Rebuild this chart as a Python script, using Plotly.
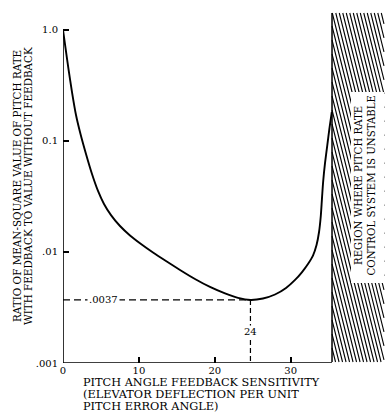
import math
import plotly.graph_objects as go

# ---- data ----
gain = [0, 0.329, 0.725, 1.186, 1.713, 2.306, 3.031, 3.821, 4.612, 5.403, 6.325, 7.511,
        8.829, 10.278, 11.86, 13.57, 15.42, 17.39, 19.37, 21.35, 23.06, 24.7, 26.35,
        27.94, 29.39, 30.58, 31.50, 32.28, 32.94, 33.41, 33.74, 33.97, 34.13, 34.29,
        34.53, 34.83, 35.12, 35.42]
ratio = [1.0, 0.689, 0.445, 0.276, 0.1714, 0.1156, 0.0764, 0.0504, 0.0355, 0.0271,
         0.0215, 0.01714, 0.01409, 0.0118, 0.00989, 0.00829, 0.00689, 0.00571, 0.00484,
         0.00423, 0.00386, 0.0037, 0.00381, 0.00414, 0.00474, 0.0056, 0.0066, 0.0078,
         0.00929, 0.01156, 0.01514, 0.0211, 0.0306, 0.0436, 0.0634, 0.092, 0.131, 0.1824]
min_gain = 24.7
min_ratio = 0.0037
min_gain_label = "24"
min_ratio_label = ".0037"
unstable_from = 35.45
x_tick_vals = [0, 10, 20, 30]
x_tick_text = ["0", "10", "20", "30"]
y_tick_vals = [0.001, 0.01, 0.1, 1.0]
y_tick_text = [".001", ".01", "0.1", "1.0"]
x_axis_end = 35.45
x_max = 42.3
y_log_range = [-3, 0.153]

FONT = "DejaVu Serif"
W, H = 386, 415
L, R, T, B = 63, 2, 13, 52
PW, PH = W - L - R, H - T - B

def px_to_paper_x(px):
    return (px - L) / PW

def px_to_paper_y(py):
    return (H - B - py) / PH

fig = go.Figure()

# axes lines
fig.add_trace(go.Scatter(x=[0, 0], y=[0.001, 1.0], mode="lines",
                         line=dict(color="black", width=1.6), hoverinfo="skip"))
fig.add_trace(go.Scatter(x=[0, x_axis_end], y=[0.001, 0.001], mode="lines",
                         line=dict(color="black", width=1.6), hoverinfo="skip"))

# dashed guide lines
fig.add_trace(go.Scatter(x=[0, min_gain], y=[min_ratio, min_ratio], mode="lines",
                         line=dict(color="black", width=1.2, dash="7px,4px"), hoverinfo="skip"))
fig.add_trace(go.Scatter(x=[min_gain, min_gain], y=[min_ratio, 0.001], mode="lines",
                         line=dict(color="black", width=1.2, dash="5px,3px"), hoverinfo="skip"))

# main curve
fig.add_trace(go.Scatter(x=gain, y=ratio, mode="lines",
                         line=dict(color="black", width=1.9, shape="spline", smoothing=0.8),
                         hoverinfo="skip"))

shapes = []
# hatched unstable region (decorative hatch lines)
hx0 = L + unstable_from / x_max * PW
hx1 = W - R
hy0, hy1 = 13, 362
slope = 0.25
step = 3.5
xi = hx0 - slope * (hy1 - hy0) - step
while xi < hx1:
    ya = max(hy0, hy0 + (hx0 - xi) / slope)
    yb = min(hy1, hy0 + (hx1 - xi) / slope)
    if yb > ya:
        xa = xi + slope * (ya - hy0)
        xb = xi + slope * (yb - hy0)
        shapes.append(dict(type="line", xref="paper", yref="paper",
                           x0=px_to_paper_x(xa), y0=px_to_paper_y(ya),
                           x1=px_to_paper_x(xb), y1=px_to_paper_y(yb),
                           line=dict(color="black", width=1.1)))
    xi += step
# left border of the region
shapes.append(dict(type="line", xref="paper", yref="paper",
                   x0=px_to_paper_x(hx0), y0=px_to_paper_y(hy0),
                   x1=px_to_paper_x(hx0), y1=px_to_paper_y(hy1),
                   line=dict(color="black", width=1.5)))
# white label box
shapes.append(dict(type="rect", xref="paper", yref="paper",
                   x0=px_to_paper_x(351), x1=1.0,
                   y0=px_to_paper_y(283), y1=px_to_paper_y(92),
                   fillcolor="white", line=dict(width=0)))

def txt(text, x, y, size=10, angle=0, xanchor="center", **kw):
    d = dict(text=text, x=x, y=y, showarrow=False, textangle=angle,
             xanchor=xanchor, yanchor="middle",
             font=dict(family=FONT, size=size, color="black"))
    d.update(kw)
    return d

annotations = [
    txt(min_ratio_label, 5.3, math.log10(min_ratio), xref="x", yref="y",
        bgcolor="white", borderpad=1),
    txt(min_gain_label, min_gain, -2.72, xref="x", yref="y", bgcolor="white", borderpad=0),
    txt("RATIO OF MEAN-SQUARE VALUE OF PITCH RATE", px_to_paper_x(17), px_to_paper_y(186),
        size=10.4, angle=-90, xref="paper", yref="paper"),
    txt("WITH FEEDBACK TO VALUE WITHOUT FEEDBACK", px_to_paper_x(28), px_to_paper_y(186),
        size=10.4, angle=-90, xref="paper", yref="paper"),
    txt("PITCH ANGLE FEEDBACK SENSITIVITY", px_to_paper_x(81), px_to_paper_y(382),
        size=11.3, xref="paper", yref="paper", xanchor="left"),
    txt("(ELEVATOR DEFLECTION PER UNIT", px_to_paper_x(81), px_to_paper_y(394),
        size=11.3, xref="paper", yref="paper", xanchor="left"),
    txt("PITCH ERROR ANGLE)", px_to_paper_x(81), px_to_paper_y(406),
        size=11.3, xref="paper", yref="paper", xanchor="left"),
    txt("REGION WHERE PITCH RATE", px_to_paper_x(358), px_to_paper_y(186),
        size=10.2, angle=-90, xref="paper", yref="paper"),
    txt("CONTROL SYSTEM IS UNSTABLE", px_to_paper_x(370.5), px_to_paper_y(186),
        size=10.2, angle=-90, xref="paper", yref="paper"),
]

fig.update_layout(
    width=W, height=H,
    margin=dict(l=L, r=R, t=T, b=B),
    paper_bgcolor="white", plot_bgcolor="white",
    showlegend=False,
    shapes=shapes,
    annotations=annotations,
    xaxis=dict(range=[0, x_max], showgrid=False, zeroline=False, showline=False,
               tickmode="array", tickvals=x_tick_vals, ticktext=x_tick_text,
               ticks="inside", ticklen=6, tickwidth=1.5, tickcolor="black",
               tickfont=dict(family=FONT, size=10, color="black")),
    yaxis=dict(type="log", range=y_log_range, showgrid=False, zeroline=False, showline=False,
               tickmode="array", tickvals=y_tick_vals, ticktext=y_tick_text,
               ticks="inside", ticklen=6, tickwidth=1.5, tickcolor="black",
               ticklabelstandoff=4,
               tickfont=dict(family=FONT, size=10, color="black")),
)

fig.write_html("out.html", config={"displayModeBar": False},
               post_script="document.body.style.margin='0px';")
